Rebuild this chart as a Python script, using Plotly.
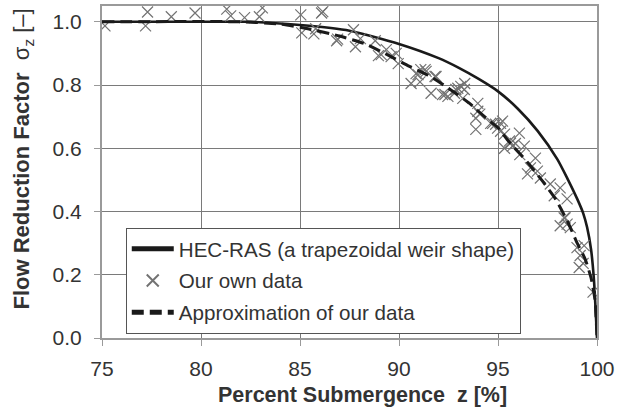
import plotly.graph_objects as go

# HEC-RAS curve (trapezoidal weir shape)
hec_z = [75, 80, 82.5, 85, 87.5, 90, 92, 93, 94, 95, 96, 97, 98, 98.5, 99, 99.3, 99.5, 99.7, 99.85, 100]
hec_s = [1.0, 1.0, 1.0, 0.99, 0.972, 0.93, 0.885, 0.855, 0.82, 0.78, 0.725, 0.655, 0.565, 0.505, 0.44, 0.395, 0.35, 0.28, 0.18, 0.0]

# Approximation of our data
app_z = [75, 82, 84, 85.4, 87, 88.3, 89.5, 90.5, 91.5, 92.5, 93.5, 94.5, 95, 95.5, 96.5, 97.2, 97.9, 98.5, 99, 99.4, 99.7, 99.9, 100]
app_s = [1.0, 1.0, 0.993, 0.978, 0.955, 0.93, 0.893, 0.86, 0.83, 0.79, 0.745, 0.69, 0.665, 0.625, 0.555, 0.50, 0.44, 0.37, 0.30, 0.25, 0.19, 0.12, 0.0]

# Our own data (measured points)
obs_z = [75.15, 77.2, 77.3, 78.5, 79.7, 81.3, 81.5, 82.2, 83.1, 82.95, 85.04, 85.09, 85.7, 85.79, 86.09, 86.15,
         86.85, 86.9, 87.7, 87.8, 88.05, 88.8, 88.96, 89.1, 89.36, 89.6, 89.86, 89.96, 90.61, 90.86, 90.96,
         91.1, 91.06, 91.32, 91.37, 91.62, 91.82, 91.87, 92.2, 92.32, 92.47, 92.8, 92.87, 92.97, 93.12, 93.22,
         93.3, 93.32, 93.98, 93.98, 94.08, 93.88, 93.88, 94.63, 94.73, 94.88, 94.98, 95.13, 95.23, 95.13,
         95.33, 95.58, 95.63, 95.73, 95.88, 95.33, 96.08, 96.33, 96.1, 96.89, 96.64, 96.49, 96.99, 97.14,
         97.64, 97.84, 98.14, 98.49, 98.39, 98.34, 98.14, 98.65, 98.49, 98.99, 99.35, 99.15, 99.1, 99.3, 99.8]
obs_s = [0.987, 0.987, 1.031, 1.016, 1.028, 1.040, 1.019, 1.013, 1.044, 1.016, 1.022, 0.965, 0.962, 0.978, 1.028, 1.032,
         0.94, 0.945, 0.975, 0.921, 0.947, 0.94, 0.893, 0.896, 0.912, 0.89, 0.90, 0.868, 0.805, 0.836, 0.833,
         0.849, 0.81, 0.849, 0.843, 0.774, 0.827, 0.827, 0.77, 0.77, 0.764, 0.774, 0.786, 0.79, 0.796, 0.758,
         0.786, 0.805, 0.742, 0.717, 0.708, 0.695, 0.66, 0.679, 0.679, 0.676, 0.664, 0.679, 0.686, 0.654,
         0.645, 0.623, 0.616, 0.607, 0.615, 0.60, 0.648, 0.607, 0.58, 0.569, 0.538, 0.519, 0.528, 0.506,
         0.487, 0.45, 0.475, 0.44, 0.38, 0.38, 0.355, 0.349, 0.36, 0.286, 0.292, 0.261, 0.223, 0.236, 0.145]

x_ticks = [75, 80, 85, 90, 95, 100]
y_ticks = [0.0, 0.2, 0.4, 0.6, 0.8, 1.0]

FONT = "Liberation Sans, Arial, sans-serif"

fig = go.Figure()
fig.add_trace(go.Scatter(x=hec_z, y=hec_s, mode="lines", name="HEC-RAS (a trapezoidal weir shape)",
                         line=dict(color="#1a1a1a", width=2.6, shape="spline", smoothing=0.6), legendgroup="a"))
fig.add_trace(go.Scatter(x=obs_z, y=obs_s, mode="markers", name="Our own data",
                         marker=dict(symbol="x-thin-open", size=11, color="#737373",
                                     line=dict(color="#737373", width=1.2)), legendgroup="b"))
fig.add_trace(go.Scatter(x=app_z, y=app_s, mode="lines", name="Approximation of our data",
                         line=dict(color="#1a1a1a", width=3, dash="12px,6px", shape="spline", smoothing=0.5),
                         legendgroup="c"))

fig.update_layout(
    width=619, height=411,
    margin=dict(l=102, r=19, t=4, b=73),
    paper_bgcolor="white", plot_bgcolor="white",
    font=dict(family=FONT, color="#333333"),
    showlegend=True,
    legend=dict(x=0.048, y=0.332, xanchor="left", yanchor="top",
                bgcolor="white", bordercolor="#555555", borderwidth=1,
                font=dict(size=20.6, family=FONT, color="#333333"),
                traceorder="grouped", tracegroupgap=2, itemsizing="constant", itemwidth=42),
)
fig.update_xaxes(range=[75, 100], tickvals=x_ticks, ticktext=[str(v) for v in x_ticks],
                 showgrid=True, gridcolor="#7a7a7a", gridwidth=1.2,
                 showline=True, linecolor="#9a9a9a", linewidth=2, mirror=True,
                 ticks="outside", ticklen=6, tickcolor="#9a9a9a",
                 tickfont=dict(size=21, color="#333333"), ticklabelstandoff=5, zeroline=False)
fig.update_yaxes(range=[0, 1.05], tickvals=y_ticks, ticktext=[f"{v:.1f}" for v in y_ticks],
                 showgrid=True, gridcolor="#7a7a7a", gridwidth=1.2,
                 showline=True, linecolor="#9a9a9a", linewidth=2, mirror=True,
                 ticks="outside", ticklen=6, tickcolor="#9a9a9a",
                 tickfont=dict(size=21, color="#333333"), ticklabelstandoff=8, zeroline=False)

fig.add_annotation(text="<b>Percent Submergence  z [%]</b>", xref="paper", yref="paper",
                   x=0.526, y=-0.172, xanchor="center", yanchor="middle", showarrow=False,
                   font=dict(size=21.5, family=FONT, color="#333333"))
fig.add_annotation(text="<b>Flow Reduction Factor</b>  σ<sub>z</sub> [–]", xref="paper", yref="paper",
                   x=-0.16, y=0.54, xanchor="center", yanchor="middle", textangle=-90, showarrow=False,
                   font=dict(size=22, family=FONT, color="#333333"))

fig.write_html("out.html")
